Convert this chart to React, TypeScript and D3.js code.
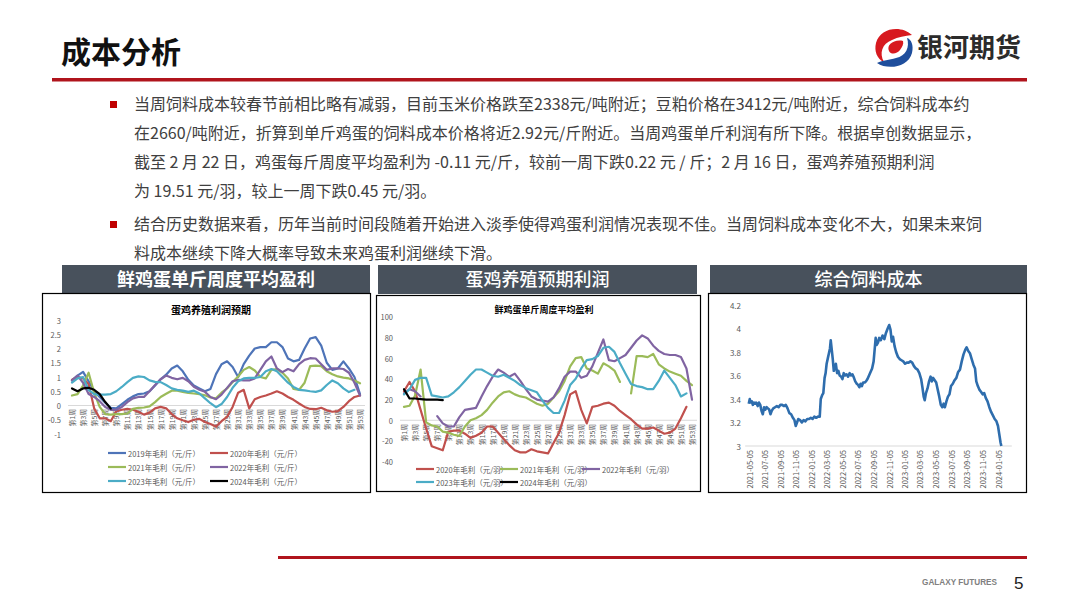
import React from 'react';
import * as d3 from 'd3';

// ---------- categories ----------
const weekLabels: string[] = Array.from({ length: 53 }, (_, i) => `第${i + 1}周`);

// ---------- chart 1: 鲜鸡蛋单斤周度平均盈利 (元/斤) ----------
const egg2019 = [0.88,1.05,1.18,0.85,0.5,0.3,0.1,-0.08,-0.1,0.05,0.2,0.32,0.4,0.42,0.5,0.7,0.92,1.08,1.3,1.4,1.2,0.9,0.7,0.6,0.5,0.58,1.1,1.45,1.55,1.35,1.0,1.45,1.75,2.0,2.05,2.05,2.22,2.22,2.05,1.65,1.55,1.6,2.0,2.35,2.4,2.1,1.5,1.25,1.3,1.55,1.3,1.0,0.4];
const egg2020 = [0.9,1.0,0.95,0.75,-0.1,-0.45,-0.45,-0.55,-0.2,-0.15,-0.12,-0.15,-0.22,-0.32,-0.25,-0.1,-0.05,-0.1,-0.3,-0.45,-0.52,-0.58,-0.5,-0.47,-0.58,-0.65,-0.74,-0.55,-0.4,-0.05,0.45,0.55,-0.1,0.22,0.3,0.35,0.42,0.5,0.42,0.3,0.2,0.07,-0.05,-0.12,-0.13,-0.08,-0.17,-0.22,-0.2,-0.05,0.15,0.3,0.35];
const egg2021 = [0.35,0.4,0.7,1.15,0.45,-0.05,-0.3,-0.32,-0.3,-0.3,-0.28,-0.12,-0.08,-0.07,-0.03,0.12,0.3,0.41,0.52,0.52,0.48,0.44,0.42,0.4,0.36,0.28,0.25,0.45,0.6,0.82,1.02,1.25,1.35,1.23,1.0,0.95,1.25,1.28,1.15,0.95,0.58,0.55,0.8,1.38,1.4,1.38,1.2,1.1,1.02,0.98,0.95,0.88,0.78];
const egg2022 = [0.88,1.05,0.8,0.4,0.3,0.15,-0.05,-0.15,-0.15,-0.05,0.12,0.25,0.3,0.3,0.5,0.72,0.92,1.05,0.97,0.92,0.97,0.85,0.66,0.55,0.48,0.3,0.22,0.38,0.62,0.85,0.9,0.88,0.88,0.95,1.25,1.55,1.72,1.3,1.17,1.28,1.2,1.45,1.6,1.66,1.65,1.45,1.25,1.3,1.3,1.28,1.15,0.8,0.35];
const egg2023 = [0.8,0.95,1.0,0.55,0.4,0.38,0.38,0.4,0.5,0.65,0.82,0.97,1.02,1.0,0.88,0.83,0.82,0.72,0.6,0.55,0.52,0.48,0.52,0.42,0.25,0.08,-0.06,0.05,0.3,0.62,0.85,0.95,0.97,0.97,1.0,1.2,1.28,1.2,1.0,0.8,0.65,0.55,0.53,0.5,0.48,0.53,0.72,0.88,0.78,0.6,0.47,0.55,null];
const egg2024 = [0.6,0.5,0.6,0.62,0.55,0.4,0.12,-0.11];
const eggYTicks = [-1, -0.5, 0, 0.5, 1, 1.5, 2, 2.5, 3];

// ---------- chart 2: 蛋鸡养殖预期利润 (元/羽) ----------
const hen2020 = [28,37,28,10,-8,-25,-27,-29,-11,-10,-10,-13,-17,-15,-12,-6,-6,-12,-18,-24,-29,-31,-31,-28,-30,-31,-32,-22,-12,5,25,28,10,-3,13,14,16,17,14,9,5,1,-4,-8,-8,-7,-10,-13,-12,-8,2,13,null];
const hen2021 = [13,14,24,49,-2,-5,-6,-11,-12,-14,-15,-6,0,2,5,10,17,23,27,28,25,23,22,19,16,14,16,22,28,38,52,60,61,50,48,45,55,52,48,37,null,26,62,62,61,64,54,50,47,45,43,38,34];
const hen2022 = [26,30,28,23,null,null,4,-3,-6,-6,3,10,11,12,23,33,42,49,46,42,45,38,30,23,20,19,18,22,31,42,47,47,41,43,52,65,78,58,57,60,63,70,77,82,79,72,67,64,63,63,61,50,20];
const hen2023 = [25,30,39,41,41,24,23,22,23,27,32,38,44,49,49,46,43,42,44,41,38,34,31,29,27,19,12,7,7,19,34,40,50,58,59,62,70,71,66,55,45,35,33,32,30,30,38,48,41,34,23,26,null];
const hen2024 = [30,21,21,20.5,20,20,19.9,19.5];
const henYTicks = [-40, -20, 0, 20, 40, 60, 80, 100];

// ---------- chart 3: 综合饲料成本 ----------
const feedDates = [
"2021-05-04","2021-05-08","2021-05-12","2021-05-16","2021-05-20","2021-05-24","2021-05-28","2021-06-02","2021-06-08","2021-06-13","2021-06-18","2021-06-23","2021-06-28","2021-07-03","2021-07-08","2021-07-13","2021-07-18","2021-07-23","2021-07-28","2021-08-02","2021-08-08","2021-08-15","2021-08-22","2021-08-29","2021-09-05","2021-09-12","2021-09-19","2021-09-26","2021-10-03","2021-10-10","2021-10-17","2021-10-24","2021-10-30","2021-11-04","2021-11-09","2021-11-14","2021-11-21","2021-11-28","2021-12-05","2021-12-12","2021-12-19","2021-12-26","2022-01-02","2022-01-09","2022-01-16","2022-01-23","2022-01-30","2022-02-06","2022-02-10","2022-02-15","2022-02-20","2022-02-25","2022-03-01","2022-03-05","2022-03-10","2022-03-14","2022-03-18","2022-03-21","2022-03-25","2022-03-29","2022-04-02","2022-04-06","2022-04-10","2022-04-15","2022-04-20","2022-04-25","2022-05-01","2022-05-06","2022-05-11","2022-05-16","2022-05-22","2022-05-28","2022-06-03","2022-06-08","2022-06-14","2022-06-20","2022-06-25","2022-07-01","2022-07-06","2022-07-11","2022-07-16","2022-07-21","2022-07-26","2022-08-01","2022-08-06","2022-08-12","2022-08-18","2022-08-24","2022-08-30","2022-09-05","2022-09-09","2022-09-13","2022-09-17","2022-09-22","2022-09-27","2022-10-03","2022-10-10","2022-10-17","2022-10-23","2022-10-30","2022-11-05","2022-11-10","2022-11-15","2022-11-20","2022-11-26","2022-12-02","2022-12-09","2022-12-16","2022-12-23","2022-12-30","2023-01-06","2023-01-13","2023-01-20","2023-01-27","2023-02-03","2023-02-10","2023-02-17","2023-02-24","2023-03-03","2023-03-10","2023-03-15","2023-03-20","2023-03-24","2023-03-29","2023-04-04","2023-04-10","2023-04-16","2023-04-21","2023-04-26","2023-05-02","2023-05-08","2023-05-14","2023-05-20","2023-05-26","2023-06-01","2023-06-06","2023-06-11","2023-06-17","2023-06-23","2023-06-29","2023-07-05","2023-07-12","2023-07-19","2023-07-26","2023-08-02","2023-08-09","2023-08-16","2023-08-23","2023-08-30","2023-09-04","2023-09-10","2023-09-17","2023-09-24","2023-10-01","2023-10-07","2023-10-12","2023-10-18","2023-10-24","2023-10-31","2023-11-06","2023-11-12","2023-11-18","2023-11-25","2023-12-02","2023-12-09","2023-12-16","2023-12-23","2023-12-30","2024-01-05","2024-01-10","2024-01-15","2024-01-18"];
const feedValues = [
3.36,3.40,3.37,3.38,3.35,3.37,3.36,3.37,3.34,3.37,3.35,3.30,3.27,3.33,3.31,3.33,3.32,3.31,3.27,3.30,3.32,3.33,3.34,3.33,3.35,3.35,3.34,3.35,3.32,3.28,3.27,3.24,3.22,3.17,3.20,3.23,3.22,3.20,3.22,3.21,3.23,3.23,3.24,3.23,3.25,3.24,3.25,3.25,3.40,3.43,3.45,3.58,3.62,3.70,3.75,3.79,3.83,3.90,3.82,3.74,3.64,3.67,3.70,3.62,3.64,3.60,3.59,3.57,3.62,3.60,3.61,3.59,3.62,3.60,3.61,3.58,3.55,3.53,3.52,3.50,3.53,3.51,3.54,3.54,3.55,3.57,3.60,3.63,3.66,3.72,3.82,3.92,3.86,3.88,3.92,3.90,3.94,3.91,3.96,4.00,4.03,3.99,3.89,3.93,3.85,3.80,3.76,3.74,3.73,3.72,3.70,3.71,3.71,3.72,3.71,3.68,3.66,3.65,3.62,3.57,3.50,3.42,3.39,3.45,3.49,3.55,3.59,3.55,3.58,3.56,3.54,3.48,3.42,3.35,3.33,3.36,3.33,3.38,3.42,3.44,3.51,3.53,3.56,3.58,3.63,3.65,3.72,3.78,3.82,3.84,3.81,3.79,3.74,3.69,3.66,3.55,3.51,3.48,3.46,3.44,3.45,3.41,3.38,3.33,3.29,3.26,3.23,3.21,3.17,3.10,3.03,3.00];
const feedTickDates = ["2021-05-05","2021-07-05","2021-09-05","2021-11-05","2022-01-05","2022-03-05","2022-05-05","2022-07-05","2022-09-05","2022-11-05","2023-01-05","2023-03-05","2023-05-05","2023-07-05","2023-09-05","2023-11-05","2024-01-05"];
const feedYTicks = [3, 3.2, 3.4, 3.6, 3.8, 4, 4.2];

// ---------- text ----------
const bullet1Lines = [
  "当周饲料成本较春节前相比略有减弱，目前玉米价格跌至2338元/吨附近；豆粕价格在3412元/吨附近，综合饲料成本约",
  "在2660/吨附近，折算到单斤鸡蛋的饲料成本价格将近2.92元/斤附近。当周鸡蛋单斤利润有所下降。根据卓创数据显示，",
  "截至 2 月 22 日，鸡蛋每斤周度平均盈利为 -0.11 元/斤，较前一周下跌0.22 元 / 斤；2 月 16 日，蛋鸡养殖预期利润",
  "为 19.51 元/羽，较上一周下跌0.45 元/羽。",
];
const bullet2Lines = [
  "结合历史数据来看，历年当前时间段随着开始进入淡季使得鸡蛋利润情况表现不佳。当周饲料成本变化不大，如果未来饲",
  "料成本继续下降大概率导致未来鸡蛋利润继续下滑。",
];

const CJK = '"Noto Sans CJK SC", "Noto Sans", sans-serif';
const AX = '#595959';

type Series = { name: string; values: (number | null)[]; color: string; width: number };

const eggSeries: Series[] = [
  { name: '2019年毛利（元/斤）', values: egg2019, color: '#4e74b8', width: 2.2 },
  { name: '2020年毛利（元/斤）', values: egg2020, color: '#c0504d', width: 2.2 },
  { name: '2021年毛利（元/斤）', values: egg2021, color: '#9bbb59', width: 2.2 },
  { name: '2022年毛利（元/斤）', values: egg2022, color: '#8064a2', width: 2.2 },
  { name: '2023年毛利（元/斤）', values: egg2023, color: '#4bacc6', width: 2.2 },
  { name: '2024年毛利（元/斤）', values: egg2024, color: '#000000', width: 2.2 },
];
const henSeries: Series[] = [
  { name: '2020年毛利（元/羽）', values: hen2020, color: '#c0504d', width: 2.2 },
  { name: '2021年毛利（元/羽）', values: hen2021, color: '#9bbb59', width: 2.2 },
  { name: '2022年毛利（元/羽）', values: hen2022, color: '#8064a2', width: 2.2 },
  { name: '2023年毛利（元/羽）', values: hen2023, color: '#4bacc6', width: 2.2 },
  { name: '2024年毛利（元/羽）', values: hen2024, color: '#000000', width: 2.2 },
];

const parseDate = d3.timeParse('%Y-%m-%d');

function WeekChart(props: {
  series: Series[]; xRange: [number, number]; yDomain: [number, number]; yRange: [number, number];
  yTicks: number[]; yLabelX: number; zeroX: [number, number]; labelTop: number;
  title: string; titleX: number; titleY: number; titleSize: number;
  legendCols: number[]; legendRows: number[]; perRow: number; fmt: (v: number) => string;
}) {
  const { series, xRange, yDomain, yRange, yTicks, yLabelX, zeroX, labelTop } = props;
  const x = d3.scaleLinear().domain([1, 53]).range(xRange);
  const y = d3.scaleLinear().domain(yDomain).range(yRange);
  const line = d3.line<number | null>()
    .defined((d) => d != null)
    .x((_, i) => x(i + 1))
    .y((d) => y(d as number));
  return (
    <g>
      <text x={props.titleX} y={props.titleY} textAnchor="middle" fontFamily={CJK} fontWeight={700}
        fontSize={props.titleSize} fill="#000">{props.title}</text>
      {yTicks.map((t) => (
        <text key={t} x={yLabelX} y={y(t)} textAnchor="end" dominantBaseline="central"
          fontFamily={CJK} fontSize={7.5} fill={AX}>{props.fmt(t)}</text>
      ))}
      <line x1={zeroX[0]} x2={zeroX[1]} y1={y(0)} y2={y(0)} stroke="#d9d9d9" strokeWidth={1} />
      {weekLabels.map((w, i) => i % 2 === 0 ? (
        <text key={w} transform={`translate(${x(i + 1)},${labelTop}) rotate(-90)`} textAnchor="end"
          dominantBaseline="central" fontFamily={CJK} fontSize={6.8} fill={AX}>{w}</text>
      ) : null)}
      {series.map((s) => (
        <path key={s.name} d={line(s.values) || ''} fill="none" stroke={s.color} strokeWidth={s.width}
          strokeLinejoin="round" strokeLinecap="round" />
      ))}
      {series.map((s, i) => {
        const col = i % props.perRow;
        const row = Math.floor(i / props.perRow);
        const lx = props.legendCols[col];
        const ly = props.legendRows[row];
        return (
          <g key={'lg' + s.name}>
            <line x1={lx} x2={lx + 18} y1={ly} y2={ly} stroke={s.color} strokeWidth={2.2} />
            <text x={lx + 20} y={ly} dominantBaseline="central" fontFamily={CJK} fontSize={7.5} fill={AX}>{s.name}</text>
          </g>
        );
      })}
    </g>
  );
}

function FeedChart() {
  const x = d3.scaleTime().domain([parseDate('2021-05-05') as Date, parseDate('2024-01-05') as Date]).range([749, 998]);
  const y = d3.scaleLinear().domain([3, 4.2]).range([446, 305]);
  const line = d3.line<number>().x((_, i) => x(parseDate(feedDates[i]) as Date)).y((d) => y(d));
  const axisStart = x(parseDate('2021-04-20') as Date);
  const axisEnd = x(parseDate('2024-02-28') as Date);
  return (
    <g>
      {feedYTicks.map((t) => (
        <text key={t} x={741} y={y(t)} textAnchor="end" dominantBaseline="central" fontFamily={CJK}
          fontSize={8} fill={AX}>{String(t)}</text>
      ))}
      <line x1={axisStart} x2={axisEnd} y1={y(3)} y2={y(3)} stroke="#d9d9d9" strokeWidth={1} />
      {feedTickDates.map((d) => (
        <text key={d} transform={`translate(${x(parseDate(d) as Date)},${y(3) + 4}) rotate(-90)`}
          textAnchor="end" dominantBaseline="central" fontFamily={CJK} fontSize={7.5} fill={AX}>{d}</text>
      ))}
      <path d={line(feedValues) || ''} fill="none" stroke="#2e6dad" strokeWidth={2.6} strokeLinejoin="round" />
    </g>
  );
}

export default function App() {
  const headers = [
    { x: 62, w: 308, label: '鲜鸡蛋单斤周度平均盈利', bold: true },
    { x: 378, w: 319, label: '蛋鸡养殖预期利润', bold: false },
    { x: 710, w: 317, label: '综合饲料成本', bold: false },
  ];
  return (
    <svg width={1080} height={608} viewBox="0 0 1080 608"
      style={{ position: 'absolute', left: 0, top: 0, background: '#fff' }}>
      <rect x={0} y={0} width={1080} height={608} fill="#fff" />
      {/* title */}
      <text x={61} y={63} fontFamily={CJK} fontWeight={700} fontSize={30} fill="#111">成本分析</text>
      {/* logo */}
      <g>
        <path d="M 912 35 C 902 25, 880 27, 876 43 C 874 51, 877 59, 884 62 C 879 53, 882 44, 892 40 C 898 37, 905 36, 912 35 Z" fill="#d7191f" />
        <path d="M 903 41 C 894 39, 886 45, 889 51 C 891 55, 897 54, 900 50 C 902 47, 904 44, 903 41 Z" fill="#d7191f" />
        <path d="M 877 63 C 887 70, 908 68, 912 53 C 914 45, 911 39, 907 38 C 910 47, 906 56, 896 58 C 889 60, 883 60, 877 63 Z" fill="#1f4e9c" />
        <text x={917} y={57} fontFamily={CJK} fontWeight={700} fontSize={26} fill="#2b2b2b">银河期货</text>
      </g>
      <rect x={52} y={78} width={975} height={3.5} fill="#b0141c" />

      {/* bullets */}
      <rect x={110} y={101} width={7} height={7} fill="#c00000" />
      {bullet1Lines.map((t, i) => (
        <text key={t} x={134} y={110 + i * 29} fontFamily={CJK} fontSize={16} fill="#404040">{t}</text>
      ))}
      <rect x={110} y={221} width={7} height={7} fill="#c00000" />
      {bullet2Lines.map((t, i) => (
        <text key={t} x={134} y={230 + i * 29} fontFamily={CJK} fontSize={16} fill="#404040">{t}</text>
      ))}

      {/* header bars */}
      {headers.map((h) => (
        <g key={h.label}>
          <rect x={h.x} y={265} width={h.w} height={29} fill="#48515c" />
          <text x={h.x + h.w / 2} y={285.5} textAnchor="middle" fontFamily={CJK} fontWeight={h.bold ? 700 : 500}
            fontSize={18} fill="#fff">{h.label}</text>
        </g>
      ))}

      {/* chart boxes */}
      <rect x={42.5} y={293.5} width={328} height={199} fill="#fff" stroke="#000" strokeWidth={1.2} />
      <rect x={376.5} y={295.5} width={324} height={196} fill="#fff" stroke="#000" strokeWidth={1.2} />
      <rect x={708.5} y={293.5} width={318} height={199} fill="#fff" stroke="#000" strokeWidth={1.2} />

      <WeekChart series={eggSeries} xRange={[72, 360]} yDomain={[-1, 3]} yRange={[434, 320]}
        yTicks={eggYTicks} yLabelX={61} zeroX={[68, 365]} labelTop={409}
        title="蛋鸡养殖利润预期" titleX={211} titleY={314} titleSize={10}
        legendCols={[108, 210]} legendRows={[453, 467, 481]} perRow={2} fmt={(v) => String(v)} />

      <WeekChart series={henSeries} xRange={[404, 692]} yDomain={[-40, 100]} yRange={[461.7, 316.7]}
        yTicks={henYTicks} yLabelX={393} zeroX={[400, 697]} labelTop={424}
        title="鲜鸡蛋单斤周度平均盈利" titleX={544} titleY={313} titleSize={9}
        legendCols={[416, 500, 582]} legendRows={[469, 482]} perRow={3} fmt={(v) => String(v)} />

      <FeedChart />

      {/* footer */}
      <rect x={278} y={556} width={749} height={3} fill="#b0141c" />
      <text x={922} y={585} fontFamily='"Liberation Sans", Arial, sans-serif' fontWeight={700} fontSize={8.5}
        fill="#808080" textLength={75} lengthAdjust="spacingAndGlyphs">GALAXY FUTURES</text>
      <text x={1014} y={589} fontFamily='"Liberation Sans", Arial, sans-serif' fontSize={17} fill="#222">5</text>
    </svg>
  );
}
